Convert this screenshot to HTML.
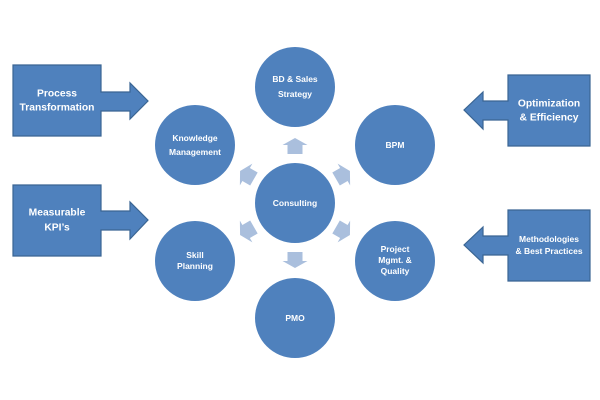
<!DOCTYPE html>
<html><head><meta charset="utf-8"><style>
html,body{margin:0;padding:0;background:#fff;}
svg{display:block;}
text{font-family:"Liberation Sans",sans-serif;font-weight:bold;fill:#fff;text-anchor:middle;dominant-baseline:central;}
</style></head><body>
<svg width="600" height="400" viewBox="0 0 600 400" xmlns="http://www.w3.org/2000/svg">
<rect width="600" height="400" fill="#fff"/>
<!-- side arrow boxes -->
<g fill="#4f81bd" stroke="#3a6593" stroke-width="1.2">
<polygon points="13,65 101,65 101,92 130,92 130,83 148,101 130,119 130,111 101,111 101,136 13,136"/>
<polygon points="13,185 101,185 101,211 130,211 130,202 148,220 130,239 130,230 101,230 101,256 13,256"/>
<polygon points="590,75 508,75 508,101 483,101 483,92 464,110 483,129 483,120 508,120 508,146 590,146"/>
<polygon points="590,210 508,210 508,236 483,236 483,227 464,245 483,263 483,255 508,255 508,281 590,281"/>
</g>
<!-- small arrows -->
<g fill="#aabfdd">
<polygon transform="translate(295,146)" points="0,-8 12.5,-1 7.5,-1 7.5,8 -7.5,8 -7.5,-1 -12.5,-1"/>
<polygon transform="translate(295,260) rotate(180)" points="0,-8 12.5,-1 7.5,-1 7.5,8 -7.5,8 -7.5,-1 -12.5,-1"/>
<polygon transform="translate(343,175) rotate(60)" points="0,-8 12.5,-1 7.5,-1 7.5,8 -7.5,8 -7.5,-1 -12.5,-1"/>
<polygon transform="translate(343,231) rotate(120)" points="0,-8 12.5,-1 7.5,-1 7.5,8 -7.5,8 -7.5,-1 -12.5,-1"/>
<polygon transform="translate(247,231) rotate(240)" points="0,-8 12.5,-1 7.5,-1 7.5,8 -7.5,8 -7.5,-1 -12.5,-1"/>
<polygon transform="translate(247,175) rotate(300)" points="0,-8 12.5,-1 7.5,-1 7.5,8 -7.5,8 -7.5,-1 -12.5,-1"/>
</g>
<!-- circles -->
<g fill="#4f81bd">
<circle cx="295" cy="87" r="40"/>
<circle cx="195" cy="145" r="40"/>
<circle cx="395" cy="145" r="40"/>
<circle cx="295" cy="203" r="40"/>
<circle cx="195" cy="261" r="40"/>
<circle cx="395" cy="261" r="40"/>
<circle cx="295" cy="318" r="40"/>
</g>
<!-- box text -->
<g font-size="10.3">
<text x="57" y="94">Process</text>
<text x="57" y="108">Transformation</text>
<text x="57" y="213">Measurable</text>
<text x="57" y="228">KPI’s</text>
<text x="549" y="104">Optimization</text>
<text x="549" y="118">&amp; Efficiency</text>
</g>
<g font-size="8.5">
<text x="549" y="239">Methodologies</text>
<text x="549" y="251">&amp; Best Practices</text>
</g>
<!-- circle text -->
<g font-size="8.5">
<text x="295" y="79">BD &amp; Sales</text>
<text x="295" y="94">Strategy</text>
<text x="195" y="138">Knowledge</text>
<text x="195" y="152">Management</text>
<text x="395" y="145">BPM</text>
<text x="295" y="203">Consulting</text>
<text x="195" y="255">Skill</text>
<text x="195" y="266">Planning</text>
<text x="395" y="249">Project</text>
<text x="395" y="260">Mgmt. &amp;</text>
<text x="395" y="271">Quality</text>
<text x="295" y="318">PMO</text>
</g>
</svg>
</body></html>
